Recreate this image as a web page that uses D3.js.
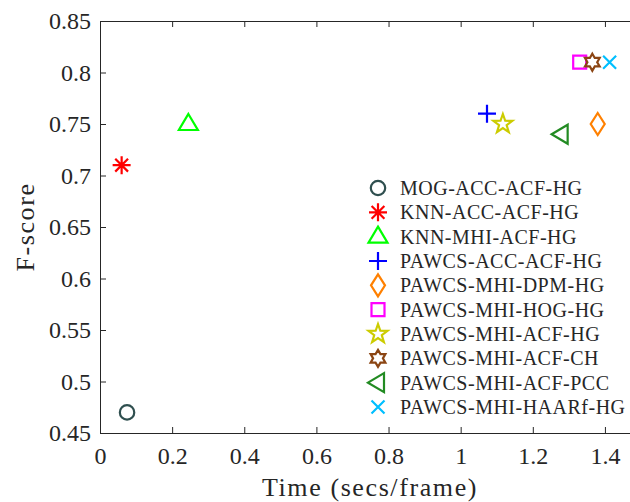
<!DOCTYPE html>
<html><head><meta charset="utf-8">
<script src="https://cdn.jsdelivr.net/npm/d3@7"></script>
<style>body{margin:0;background:#fff}svg{display:block}text{font-family:"Liberation Serif","DejaVu Serif",serif;fill:#262626}</style>
</head><body><svg id="c" width="630" height="502"></svg>
<script>
const methods = ["MOG-ACC-ACF-HG","KNN-ACC-ACF-HG","KNN-MHI-ACF-HG","PAWCS-ACC-ACF-HG","PAWCS-MHI-DPM-HG","PAWCS-MHI-HOG-HG","PAWCS-MHI-ACF-HG","PAWCS-MHI-ACF-CH","PAWCS-MHI-ACF-PCC","PAWCS-MHI-HAARf-HG"];
const timeValues = [0.075,0.06,0.245,1.073,1.38,1.33,1.117,1.365,1.28,1.413];
const fscoreValues = [0.47,0.71,0.75,0.76,0.75,0.81,0.75,0.81,0.74,0.81];
const markers = ["circle","asterisk","triangleUp","plus","diamond","square","pentagram","hexagram","triangleLeft","cross"];
const colors = ["#2f4f4f","#ff0000","#00ff00","#0000ff","#ff8000","#ff00ff","#cccc00","#8b4513","#228b22","#00bfff"];
const xTicks = [0,0.2,0.4,0.6,0.8,1,1.2,1.4];
const yTicks = [0.45,0.5,0.55,0.6,0.65,0.7,0.75,0.8,0.85];

const svg = d3.select("#c");
const x = d3.scaleLinear().domain([0,1.5]).range([100,641]);
const y = d3.scaleLinear().domain([0.45,0.85]).range([433,21]);

function starPts(n, R, r, rot){
  const p=[];
  for(let i=0;i<2*n;i++){const a=rot+i*Math.PI/n; const rr=i%2?r:R; p.push([rr*Math.sin(a), -rr*Math.cos(a)]);}
  return "M"+p.map(q=>q.join(",")).join("L")+"Z";
}
function markerPath(m){
  switch(m){
    case "circle": return d3.arc()({innerRadius:0,outerRadius:7.2,startAngle:0,endAngle:2*Math.PI});
    case "asterisk": {const s=9,d=6.4; return `M0,${-s}L0,${s}M${-s},0L${s},0M${-d},${-d}L${d},${d}M${-d},${d}L${d},${-d}`;}
    case "triangleUp": return "M0,-10L9.5,6L-9.5,6Z";
    case "triangleLeft": return "M-10,0L6,-9.5L6,9.5Z";
    case "plus": return "M0,-9L0,9M-9,0L9,0";
    case "diamond": return "M0,-11L7,0L0,11L-7,0Z";
    case "square": return "M-6.5,-6.5L6.5,-6.5L6.5,6.5L-6.5,6.5Z";
    case "pentagram": return starPts(5,10,4,0);
    case "hexagram": return starPts(6,8.5,8.5/Math.sqrt(3),0);
    case "cross": return "M-6.5,-6.5L6.5,6.5M-6.5,6.5L6.5,-6.5";
  }
}

const ink = "#262626";
function styleAxis(a, withText){
  a.select(".domain").attr("stroke",ink);
  a.selectAll("line").attr("stroke",ink);
  if(withText) a.selectAll("text").attr("font-size",24).attr("font-family","Liberation Serif").attr("fill",ink);
}
const g = svg.append("g");
g.append("g").attr("transform","translate(0,433)")
  .call(d3.axisBottom(x).tickValues(xTicks).tickSizeInner(-6).tickSizeOuter(0).tickPadding(14).tickFormat(d3.format("")))
  .call(a=>styleAxis(a,true));
g.append("g").attr("transform","translate(0,21)")
  .call(d3.axisTop(x).tickValues(xTicks).tickSizeInner(-6).tickSizeOuter(0).tickFormat(""))
  .call(a=>styleAxis(a,false));
g.append("g").attr("transform","translate(100,0)")
  .call(d3.axisLeft(y).tickValues(yTicks).tickSizeInner(-6).tickSizeOuter(0).tickPadding(9).tickFormat(d3.format("")))
  .call(a=>styleAxis(a,true));
g.append("g").attr("transform","translate(641,0)")
  .call(d3.axisRight(y).tickValues(yTicks).tickSizeInner(-6).tickSizeOuter(0).tickFormat(""))
  .call(a=>styleAxis(a,false));

svg.append("text").attr("x",370).attr("y",496).attr("text-anchor","middle").attr("font-size",26).attr("letter-spacing",1.6).text("Time (secs/frame)");
svg.append("text").attr("transform","translate(34,227) rotate(-90)").attr("text-anchor","middle").attr("font-size",26).attr("letter-spacing",1.6).text("F-score");

// points
svg.append("g").selectAll("path").data(methods).join("path")
  .attr("transform",(d,i)=>`translate(${x(timeValues[i])},${y(fscoreValues[i])})`)
  .attr("d",(d,i)=>markerPath(markers[i]))
  .attr("fill","none").attr("stroke",(d,i)=>colors[i]).attr("stroke-width",2.2);

// legend
const lg = svg.append("g");
const rowY = d3.scaleLinear().domain([0,9]).range([188,407]);
methods.forEach((m,i)=>{
  lg.append("path").attr("transform",`translate(378,${rowY(i)})`).attr("d",markerPath(markers[i]))
    .attr("fill","none").attr("stroke",colors[i]).attr("stroke-width",2.2);
  lg.append("text").attr("x",400).attr("y",rowY(i)+7).attr("font-size",20).attr("letter-spacing",0.5).text(m);
});
</script></body></html>
